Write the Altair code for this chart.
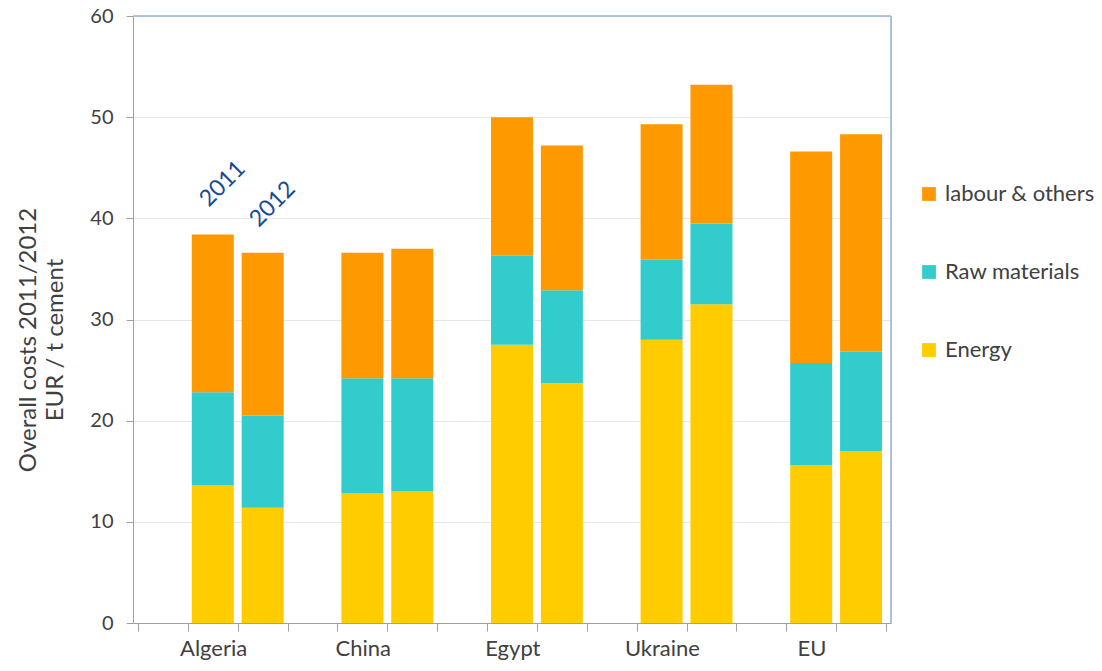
import altair as alt
import pandas as pd

countries = ["Algeria", "China", "Egypt", "Ukraine", "EU"]
years = ["2011", "2012"]
components = ["labour & others", "Raw materials", "Energy"]
colors = ["#FF9900", "#33CCCC", "#FFCC00"]

energy_2011 = [13.6, 12.8, 27.5, 28.0, 15.6]
energy_2012 = [11.4, 13.0, 23.7, 31.5, 17.0]
raw_2011 = [9.2, 11.4, 8.8, 7.9, 10.1]
raw_2012 = [9.1, 11.2, 9.2, 8.0, 9.8]
labour_2011 = [15.6, 12.4, 13.7, 13.4, 20.9]
labour_2012 = [16.1, 12.8, 14.3, 13.7, 21.5]

note_texts = ["2011", "2012"]
note_y = [43.4, 41.4]

W, H = 758, 607
PAD_L, PAD_T = 133, 16
FONT = "Lato"
TXT = "#404040"
NSLOTS = 3 * len(countries)  # one empty slot + 2011 + 2012 per country
SLOT_PX = W / NSLOTS


def slot_center(ci, yi):
    return 3 * ci + 1 + yi + 0.5


series = {
    ("Energy", 0): energy_2011, ("Energy", 1): energy_2012,
    ("Raw materials", 0): raw_2011, ("Raw materials", 1): raw_2012,
    ("labour & others", 0): labour_2011, ("labour & others", 1): labour_2012,
}
order_map = {"Energy": 0, "Raw materials": 1, "labour & others": 2}
rows = []
for (comp, yi), vals in series.items():
    for ci, v in enumerate(vals):
        rows.append({"pos": slot_center(ci, yi), "country": countries[ci], "year": years[yi],
                     "component": comp, "value": v, "ord": order_map[comp]})
df = pd.DataFrame(rows)

notes = pd.DataFrame({
    "pos": [slot_center(0, i) for i in range(len(note_texts))],
    "text": note_texts,
    "y": note_y,
})

# ticks on every slot boundary; the country name sits on the boundary left of its
# 2011 bar and is shifted half a slot to the right
tick_vals = list(range(NSLOTS + 1))
label_expr = "".join(
    f"datum.value == {3 * ci + 1} ? '{c}' : " for ci, c in enumerate(countries)
) + "''"

x_enc = alt.X(
    "pos:Q",
    scale=alt.Scale(domain=[0, NSLOTS], nice=False, zero=False),
    axis=alt.Axis(
        title=None,
        values=tick_vals,
        labelExpr=label_expr,
        labelOverlap=False,
        labelFlush=False,
        labelAngle=0,
        labelOffset=SLOT_PX / 2,
        labelFontSize=22,
        labelPadding=7,
        tickSize=8,
        domainColor="#A0A0A0",
        tickColor="#A0A0A0",
        grid=False,
    ),
)

bars = alt.Chart(df).mark_bar(width=42).encode(
    x=x_enc,
    y=alt.Y(
        "value:Q",
        stack="zero",
        scale=alt.Scale(domain=[0, 60], nice=False),
        axis=alt.Axis(
            values=[0, 10, 20, 30, 40, 50, 60],
            title=["Overall costs 2011/2012", "EUR / t cement"],
            titleFontSize=24,
            titleFontWeight="normal",
            titleAngle=270,
            titleX=-117,
            titleY=H / 2 + 20,
            titleAlign="center",
            titleBaseline="top",
            titleLineHeight=27,
            labelFontSize=20,
            labelPadding=13,
            tickSize=7,
            gridColor="#E6E6E6",
            domainColor="#A0A0A0",
            tickColor="#A0A0A0",
        ),
    ),
    color=alt.Color(
        "component:N",
        scale=alt.Scale(domain=components, range=colors),
        legend=alt.Legend(
            title=None,
            orient="none",
            legendX=785,
            legendY=167,
            symbolType="square",
            symbolSize=190,
            symbolStrokeWidth=0,
            labelFontSize=22,
            labelOffset=5,
            rowPadding=56,
        ),
    ),
    order=alt.Order("ord:Q", sort="ascending"),
)

labels = alt.Chart(notes).mark_text(
    angle=315, align="center", baseline="middle", fontSize=23, color="#164A94",
    font=FONT, dx=7.0, dy=7.0,
).encode(
    x=alt.X("pos:Q"),
    y=alt.Y("y:Q"),
    text="text:N",
)

border_color = "#95B3D7"
top_rule = alt.Chart(alt.Data(values=[{"a": 0}])).mark_rule(color=border_color, strokeWidth=1.5).encode(
    x=alt.value(0), x2=alt.value(W), y=alt.value(0)
)
right_rule = alt.Chart(alt.Data(values=[{"a": 0}])).mark_rule(color=border_color, strokeWidth=1.5).encode(
    x=alt.value(W), y=alt.value(0), y2=alt.value(H)
)

chart = alt.layer(bars, labels, top_rule, right_rule).properties(
    width=W, height=H,
    autosize=alt.AutoSizeParams(type="none"),
    padding={"left": PAD_L, "top": PAD_T, "right": 1102 - PAD_L - W, "bottom": 671 - PAD_T - H},
).configure_view(strokeOpacity=0).configure(
    font=FONT,
).configure_axis(
    labelColor=TXT, titleColor=TXT, labelFont=FONT, titleFont=FONT,
).configure_legend(
    labelColor=TXT, labelFont=FONT,
)

chart.save("out.html", embed_options={"renderer": "svg", "actions": False})
